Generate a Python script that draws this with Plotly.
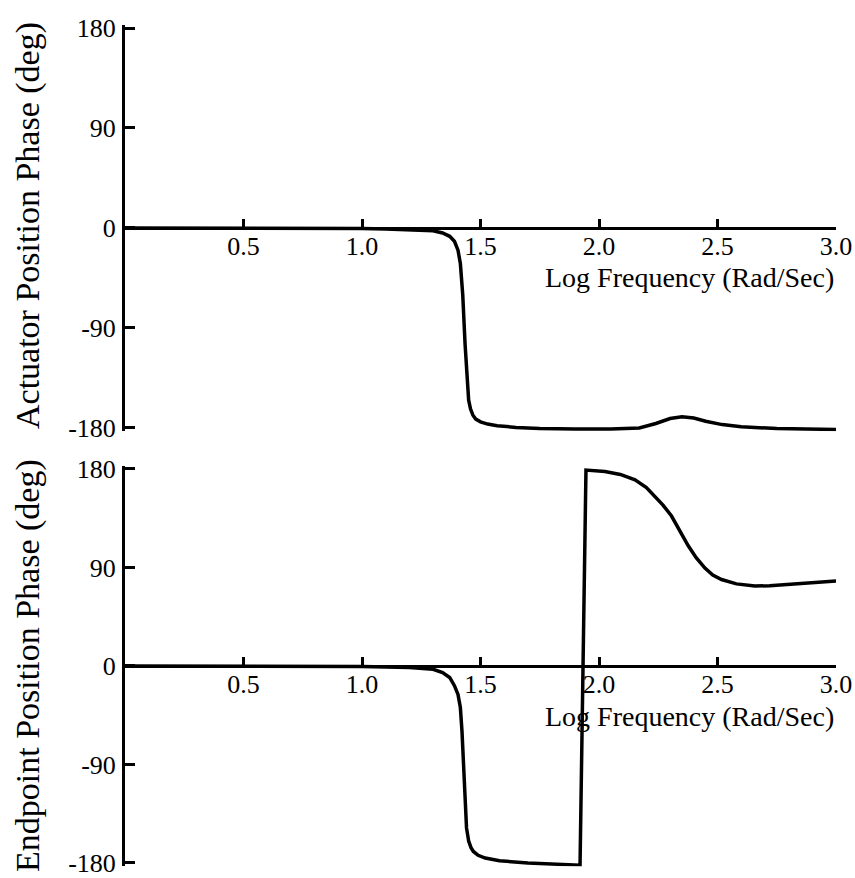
import plotly.graph_objects as go

# ---- data ----
act_x = [0, 0.5, 1.0, 1.1, 1.2, 1.3, 1.34, 1.37, 1.39, 1.405, 1.415, 1.425, 1.435, 1.443,
         1.45, 1.458, 1.468, 1.48, 1.50, 1.53, 1.57, 1.65, 1.75, 1.9, 2.05, 2.17, 2.24,
         2.30, 2.35, 2.40, 2.45, 2.52, 2.60, 2.75, 2.9, 3.0]
act_y = [0, 0, -0.5, -1, -1.5, -2.5, -4.5, -7.5, -12, -20, -32, -60, -105, -140,
         -155, -163, -168.5, -172, -174.5, -176.5, -178, -179.5, -180.5, -181, -181, -180, -176,
         -171.5, -170, -171, -174, -177, -179, -180.5, -181, -181.5]

end_x = [0, 0.5, 1.0, 1.1, 1.2, 1.3, 1.34, 1.37, 1.39, 1.405, 1.415, 1.422, 1.428, 1.435,
         1.441, 1.45, 1.46, 1.47, 1.49, 1.52, 1.58, 1.7, 1.8, 1.92, 1.945, 2.025, 2.09,
         2.152, 2.20, 2.236, 2.27, 2.306, 2.34, 2.376, 2.41, 2.447, 2.48, 2.517, 2.58,
         2.658, 2.72, 2.799, 2.9, 3.0]
end_y = [0, 0, -0.5, -1, -1.5, -3, -6, -10.5, -18, -26, -38, -60, -94, -125,
         -148, -160, -166, -169.5, -173, -175.5, -178, -180, -181, -182, 179, 177.6, 175,
         170, 163, 155, 147, 137, 124, 110, 99, 89.5, 83, 79, 75,
         73, 73.3, 74.6, 76, 77.6]

x_ticks = [0.5, 1.0, 1.5, 2.0, 2.5, 3.0]
x_tick_text = ["0.5", "1.0", "1.5", "2.0", "2.5", "3.0"]
y_ticks = [-180, -90, 0, 90, 180]
y_tick_text = ["-180", "-90", "0", "90", "180"]

x_title = "Log Frequency (Rad/Sec)"
y_title_top = "Actuator Position Phase (deg)"
y_title_bottom = "Endpoint Position Phase (deg)"

FONT = "Liberation Serif, Times New Roman, serif"
BLACK = "#000000"

fig = go.Figure()
fig.add_trace(go.Scatter(x=act_x, y=act_y, mode="lines", line=dict(color=BLACK, width=3.5),
                         xaxis="x", yaxis="y", showlegend=False))
fig.add_trace(go.Scatter(x=end_x, y=end_y, mode="lines", line=dict(color=BLACK, width=3.5),
                         xaxis="x2", yaxis="y2", showlegend=False))

xcommon = dict(range=[0, 3], tickvals=x_ticks, ticktext=x_tick_text, showline=True,
               linecolor=BLACK, linewidth=3, ticks="inside", ticklen=8, tickwidth=3,
               tickcolor=BLACK, showgrid=False, zeroline=False, anchor="free",
               side="bottom", tickfont=dict(family=FONT, size=26, color=BLACK),
               ticklabelstandoff=-6, domain=[0, 1], automargin=False,
               ticklabeloverflow="allow")
ycommon = dict(range=[-183, 183], tickvals=y_ticks, ticktext=y_tick_text, showline=True,
               linecolor=BLACK, linewidth=3, ticks="inside", ticklen=10, tickwidth=3,
               tickcolor=BLACK, showgrid=False, zeroline=False, automargin=False,
               tickfont=dict(family=FONT, size=26, color=BLACK), ticklabelstandoff=1,
               ticklabeloverflow="allow")

fig.update_layout(
    width=855, height=878,
    margin=dict(l=125, r=19, t=0, b=0),
    paper_bgcolor="white", plot_bgcolor="white",
    xaxis=dict(**xcommon, position=0.7403),
    xaxis2=dict(**xcommon, position=0.2415),
    yaxis=dict(**ycommon, domain=[0.5088, 0.9719], anchor="x"),
    yaxis2=dict(**ycommon, domain=[0.0134, 0.4696], anchor="x2"),
    annotations=[
        dict(text=x_title, xref="paper", yref="paper", x=1.0, y=0.6834, xanchor="right",
             yanchor="middle", showarrow=False, font=dict(family=FONT, size=28, color=BLACK)),
        dict(text=x_title, xref="paper", yref="paper", x=1.0, y=0.184, xanchor="right",
             yanchor="middle", showarrow=False, font=dict(family=FONT, size=28, color=BLACK)),
        dict(text=y_title_top, xref="paper", yref="paper", x=-0.1364, y=0.7426,
             xanchor="center", yanchor="middle", textangle=-90, showarrow=False,
             font=dict(family=FONT, size=34, color=BLACK)),
        dict(text=y_title_bottom, xref="paper", yref="paper", x=-0.1364, y=0.2415,
             xanchor="center", yanchor="middle", textangle=-90, showarrow=False,
             font=dict(family=FONT, size=34, color=BLACK)),
    ],
)

fig.write_html("out.html")
